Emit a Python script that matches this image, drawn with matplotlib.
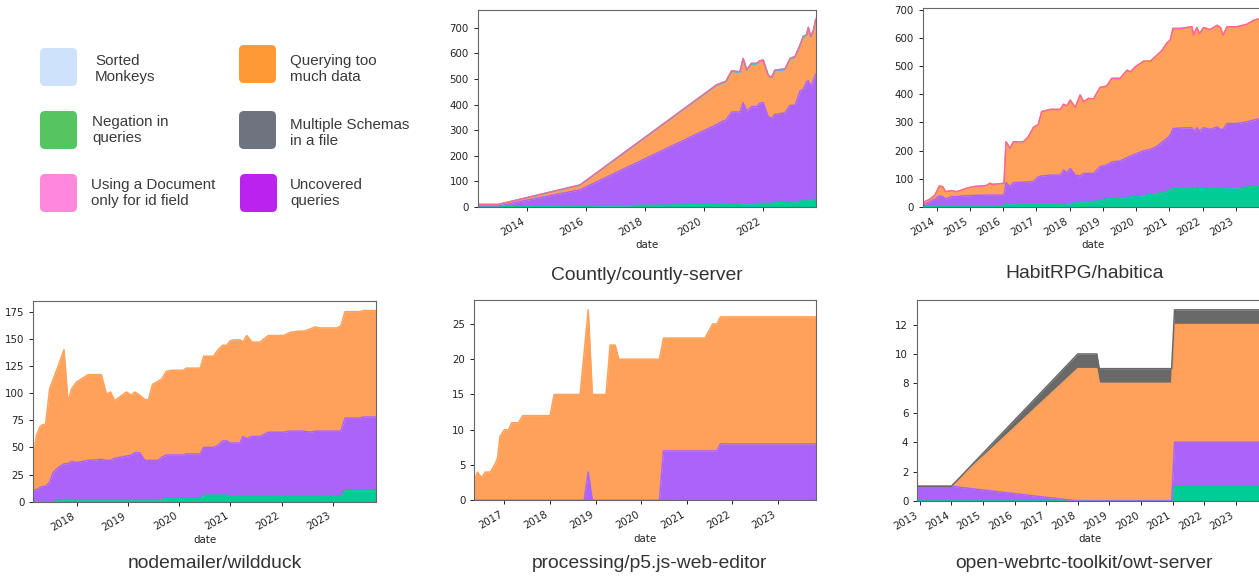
import numpy as np
import pandas as pd
import matplotlib
matplotlib.use('Agg')
import matplotlib.pyplot as plt
import matplotlib.dates as mdates
from matplotlib.patches import FancyBboxPatch

# plot colours (plotly-like palette used by the area charts)
GREEN = '#00CC96'
PURPLE = '#AB63FA'
ORANGE = '#FFA15A'
CYAN = '#19D3F3'
GRAY = '#696969'
PINK = '#FF6692'

# ---------------- data (decimal years, per-series values) ----------------
countly_years = [2012.34, 2013.04, 2015.81, 2020.44, 2020.64, 2020.75, 2020.95, 2021.23, 2021.34,
                 2021.46, 2021.62, 2021.80, 2021.90, 2022.02, 2022.19, 2022.30, 2022.42, 2022.76,
                 2022.93, 2023.10, 2023.27, 2023.38, 2023.49, 2023.55, 2023.63, 2023.72, 2023.80]
countly_green = [1, 1, 3, 10, 10, 10, 11, 11, 12, 12, 13, 13, 14, 14, 14, 14, 16, 18, 19, 20, 22, 25,
                 27, 27, 28, 29, 30]
countly_purple = [4, 4, 64, 312, 325, 328, 360, 360, 395, 363, 379, 379, 391, 394, 338, 332, 346, 350,
                  378, 377, 431, 435, 462, 466, 442, 464, 489]
countly_orange = [4, 4, 17, 147, 143, 144, 153, 149, 165, 153, 161, 161, 158, 158, 155, 152, 165, 163,
                  175, 183, 172, 199, 175, 201, 188, 188, 206]
countly_cyan = [1, 1, 2, 8, 8, 8, 8, 8, 8, 8, 8, 8, 8, 8, 8, 8, 8, 8, 8, 8, 8, 8, 8, 8, 8, 8, 8]
countly_pink = [0] * 27

habitica_years = [2013.58, 2013.80, 2013.95, 2014.08, 2014.18, 2014.27, 2014.45, 2014.60, 2014.90,
                  2015.10, 2015.50, 2015.60, 2015.70, 2016.03, 2016.09, 2016.21, 2016.31, 2016.61,
                  2016.76, 2016.91, 2017.06, 2017.16, 2017.42, 2017.72, 2017.82, 2017.92, 2018.02,
                  2018.17, 2018.32, 2018.42, 2018.57, 2018.72, 2018.92, 2019.12, 2019.27, 2019.52,
                  2019.73, 2019.83, 2019.98, 2020.23, 2020.43, 2020.63, 2020.78, 2020.93, 2021.03,
                  2021.11, 2021.33, 2021.68, 2021.73, 2021.83, 2021.91, 2022.03, 2022.23, 2022.44,
                  2022.54, 2022.62, 2022.74, 2023.04, 2023.34, 2023.54, 2023.74, 2023.83]
habitica_green = [2, 2, 3, 3, 3, 3, 3, 3, 3, 3, 3, 3, 3, 3, 13, 11, 11, 10, 10, 10, 10, 10, 10, 10, 10,
                  11, 13, 13, 19, 19, 19, 19, 25, 28, 31, 32, 34, 35, 38, 40, 44, 48, 51, 55, 62, 66,
                  66, 66, 64, 66, 64, 66, 66, 66, 66, 66, 68, 68, 70, 72, 73, 73]
habitica_purple = [5, 17, 25, 36, 34, 25, 34, 34, 37, 38, 39, 39, 39, 39, 73, 61, 75, 78, 79, 80, 97,
                   100, 103, 103, 121, 110, 124, 100, 91, 100, 100, 100, 118, 121, 129, 131, 141, 145,
                   150, 159, 160, 167, 179, 188, 193, 212, 214, 215, 203, 215, 205, 215, 209, 218,
                   209, 209, 228, 228, 232, 236, 241, 243]
habitica_orange = [8, 9, 14, 35, 35, 26, 21, 17, 26, 31, 34, 42, 38, 42, 145, 136, 145, 143, 160, 192,
                   186, 228, 233, 233, 233, 237, 242, 240, 287, 254, 266, 264, 281, 280, 296, 293,
                   310, 299, 309, 318, 313, 323, 325, 339, 337, 355, 353, 358, 342, 355, 345, 355,
                   354, 360, 361, 334, 343, 343, 346, 354, 354, 356]
habitica_pink = [0] * 62

wildduck_years = [2017.15, 2017.18, 2017.21, 2017.28, 2017.33, 2017.39, 2017.47, 2017.54, 2017.63,
                  2017.75, 2017.83, 2017.90, 2017.99, 2018.22, 2018.48, 2018.58, 2018.66, 2018.74,
                  2018.97, 2019.07, 2019.13, 2019.23, 2019.33, 2019.40, 2019.48, 2019.59, 2019.66,
                  2019.75, 2019.85, 2020.08, 2020.14, 2020.41, 2020.48, 2020.67, 2020.76, 2020.85,
                  2020.93, 2020.99, 2021.06, 2021.19, 2021.24, 2021.32, 2021.42, 2021.58, 2021.74,
                  2022.04, 2022.17, 2022.33, 2022.43, 2022.56, 2022.65, 2022.75, 2023.08, 2023.16,
                  2023.24, 2023.53, 2023.60, 2023.84]
wildduck_green = [0, 0, 0, 0, 0, 0, 0, 0, 1, 2, 2, 1.5, 1.5, 1.5, 1.5, 1.5, 1.5, 1.5, 1.5, 1.5, 1.5,
                  1.5, 1.5, 1.5, 1.5, 1.5, 2, 3, 3, 3, 3, 3, 6, 6, 6, 6, 6, 5, 5, 5, 5, 5, 5, 5, 5, 5,
                  5, 5, 5, 5, 5, 5, 5, 5, 10, 10, 10, 10]
wildduck_purple = [11, 11, 11, 13, 14, 14, 18, 27, 30, 33, 33, 35.5, 34.5, 36.5, 37.5, 36.5, 36.5,
                   38.5, 40.5, 41.5, 43.5, 43.5, 36.5, 36.5, 36.5, 36.5, 39, 40, 40, 40, 41, 41, 44,
                   44, 46, 50, 50, 49, 49, 49, 55, 53, 55, 55, 59, 59, 60, 60, 60, 59, 60, 60, 60, 60,
                   67, 67, 68, 68]
wildduck_orange = [39, 40, 50, 56, 57, 57, 86, 86, 93, 105, 57, 67, 74, 79, 78, 61, 63, 53, 59, 55,
                   56, 53, 56, 56, 70, 73, 72, 77, 78, 78, 79, 79, 84, 84, 88, 88, 88, 94, 95, 95, 87,
                   95, 87, 87, 89, 89, 91, 92, 92, 95, 96, 95, 95, 97, 98, 98, 98, 98]

p5_years = [2016.34, 2016.41, 2016.50, 2016.58, 2016.69, 2016.80, 2016.85, 2016.90, 2017.00, 2017.09,
            2017.16, 2017.31, 2017.40, 2018.00, 2018.09, 2018.66, 2018.75, 2018.84, 2018.93, 2019.23,
            2019.32, 2019.43, 2019.51, 2020.40, 2020.49, 2021.40, 2021.57, 2021.66, 2021.74, 2023.83]
p5_purple = [0, 0, 0, 0, 0, 0, 0, 0, 0, 0, 0, 0, 0, 0, 0, 0, 0, 4, 0, 0, 0, 0, 0, 0, 7, 7, 7, 7, 8, 8]
p5_orange = [2.8, 4, 3.2, 4, 4, 5.2, 6, 9, 10, 10, 11, 11, 12, 12, 15, 15, 21, 23, 15, 15, 22, 22, 20,
             20, 16, 16, 18, 18, 18, 18]

owt_years = [2012.92, 2014.00, 2018.00, 2018.60, 2018.68, 2020.97, 2021.06, 2023.83]
owt_green = [0, 0, 0, 0, 0, 0, 1, 1]
owt_purple = [1, 1, 0, 0, 0, 0, 3, 3]
owt_orange = [0, 0, 9, 9, 8, 8, 8, 8]
owt_gray = [0, 0, 1, 1, 1, 1, 1, 1]

legend_labels = ['Sorted\nMonkeys', 'Negation in\nqueries', 'Using a Document\nonly for id field',
                 'Querying too\nmuch data', 'Multiple Schemas\nin a file', 'Uncovered\nqueries']
legend_colors = ['#cfe2fc', '#55c461', '#ff88dd', '#ff9933', '#6e737f', '#bb22ee']


def to_dates(years):
    out = []
    for y in years:
        base = int(y)
        start = pd.Timestamp(year=base, month=1, day=1)
        end = pd.Timestamp(year=base + 1, month=1, day=1)
        out.append(start + (end - start) * (y - base))
    return out


def area(ax, years, layers, step):
    x = to_dates(years)
    bottom = np.zeros(len(years))
    for vals, color in layers:
        top = bottom + np.asarray(vals, float)
        ax.plot(x, top, color=color, lw=1.1)
        ax.fill_between(x, bottom, top, color=color, lw=0)
        bottom = top
    ax.set_xlim(x[0], x[-1])
    ax.set_ylim(0, bottom.max() * 1.05)
    ax.xaxis.set_major_locator(mdates.YearLocator(step))
    ax.xaxis.set_major_formatter(mdates.DateFormatter('%Y'))
    ax.tick_params(labelsize=7.4, length=3, width=0.7, colors='#222222')
    plt.setp(ax.get_xticklabels(), rotation=30, ha='right')
    ax.set_xlabel('date', fontsize=7.4, labelpad=2, color='#222222')
    for s in ax.spines.values():
        s.set_color('#666666')
        s.set_linewidth(0.8)


W, H = 1259, 576
fig = plt.figure(figsize=(W / 100, H / 100), dpi=100)


def px_axes(left, top, right, bottom):
    return fig.add_axes([left / W, 1 - bottom / H, (right - left) / W, (bottom - top) / H])


# legend drawn in pixel coordinates
bg = fig.add_axes([0, 0, 1, 1], zorder=-1)
bg.set_xlim(0, W)
bg.set_ylim(H, 0)
bg.axis('off')
box_pos = [(40, 48), (40, 111), (40, 174), (239, 45), (239, 111), (240, 174)]
text_pos = [(95, 69), (92, 130), (91, 193), (290, 69), (290, 133), (290, 193)]
for (bx, by), (tx, ty), lab, col in zip(box_pos, text_pos, legend_labels, legend_colors):
    bg.add_patch(FancyBboxPatch((bx + 5, by + 5), 27, 28, boxstyle='round,pad=5',
                                fc=col, ec='none'))
    bg.text(tx, ty, lab, fontsize=10.9, color='#3a3a3a', va='center', ha='left',
            family='Liberation Sans', linespacing=1.2)

ax1 = px_axes(477.7, 10, 815.7, 207)
area(ax1, countly_years, [(countly_green, GREEN), (countly_purple, PURPLE), (countly_orange, ORANGE),
                          (countly_cyan, CYAN), (countly_pink, PINK)], 2)

ax2 = px_axes(922.7, 8, 1263.3, 207)
area(ax2, habitica_years, [(habitica_green, GREEN), (habitica_purple, PURPLE),
                           (habitica_orange, ORANGE), (habitica_pink, PINK)], 1)

ax3 = px_axes(33.3, 301, 375.7, 501.7)
area(ax3, wildduck_years, [(wildduck_green, GREEN), (wildduck_purple, PURPLE),
                           (wildduck_orange, ORANGE)], 1)

ax4 = px_axes(474.3, 300.3, 815.7, 500.3)
area(ax4, p5_years, [(p5_purple, PURPLE), (p5_orange, ORANGE)], 1)

ax5 = px_axes(917.3, 300.3, 1262, 501)
area(ax5, owt_years, [(owt_green, GREEN), (owt_purple, PURPLE), (owt_orange, ORANGE),
                      (owt_gray, GRAY)], 1)

titles = [('Countly/countly-server', 646.5, 275), ('HabitRPG/habitica', 1084.5, 273.5),
          ('nodemailer/wildduck', 215, 563.5), ('processing/p5.js-web-editor', 649.5, 564),
          ('open-webrtc-toolkit/owt-server', 1084.5, 564)]
for t, x, y in titles:
    fig.text(x / W, 1 - y / H, t, fontsize=13.9, color='#333333', ha='center', va='center',
             family='Liberation Sans')

fig.savefig('out.png', dpi=100)
